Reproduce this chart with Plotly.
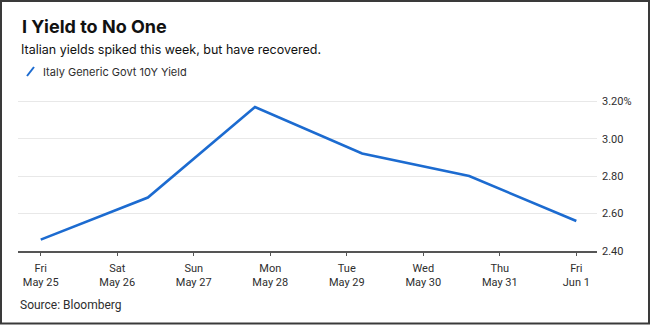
import plotly.graph_objects as go

# Italy generic government 10-year yield, one close per trading session
sessions = ["2018-05-25 00:00", "2018-05-26 09:36", "2018-05-27 19:12",
            "2018-05-29 04:48", "2018-05-30 14:24", "2018-06-01 00:00"]
yields = [2.461, 2.686, 3.170, 2.921, 2.801, 2.560]

# Calendar day ticks along the bottom
tick_dates = ["2018-05-25", "2018-05-26", "2018-05-27", "2018-05-28",
              "2018-05-29", "2018-05-30", "2018-05-31", "2018-06-01"]
tick_days = ["Fri", "Sat", "Sun", "Mon", "Tue", "Wed", "Thu", "Fri"]
tick_dates_lbl = ["May 25", "May 26", "May 27", "May 28",
                  "May 29", "May 30", "May 31", "Jun 1"]

y_ticks = [2.40, 2.60, 2.80, 3.00, 3.20]
y_tick_text = ["2.40", "2.60", "2.80", "3.00", "3.20%"]

title = "I Yield to No One"
subtitle = "Italian yields spiked this week, but have recovered."
series_name = "Italy Generic Govt 10Y Yield"
source = "Source: Bloomberg"

BLUE = "#1c6bd0"
TEXT = "#2e2e2e"
FONT = "Inter, Roboto, Arial, sans-serif"
LABEL_FONT = "Roboto, Arial, sans-serif"

W, H = 650, 325
L, R, T, B = 18, 53, 92, 74
PW, PH = W - L - R, H - T - B


def px(x):
    return (x - L) / PW


def py(y):
    return (H - B - y) / PH


fig = go.Figure()
fig.add_trace(go.Scatter(
    x=sessions, y=yields, mode="lines", name=series_name,
    line=dict(color=BLUE, width=2.6), hoverinfo="x+y",
))

fig.update_layout(
    width=W, height=H,
    margin=dict(l=L, r=R, t=T, b=B, pad=0),
    paper_bgcolor="white", plot_bgcolor="white",
    showlegend=False,
    font=dict(family=FONT, size=11, color=TEXT),
    xaxis=dict(
        type="date",
        range=["2018-05-24 16:52", "2018-06-01 06:29"],
        tickvals=tick_dates,
        ticktext=[f"{d}<br>{m}" for d, m in zip(tick_days, tick_dates_lbl)],
        showgrid=False, zeroline=False,
        showline=True, linecolor="#555555", linewidth=1.5,
        ticks="outside", ticklen=3, tickwidth=1, tickcolor="#555555",
        ticklabelstandoff=3,
        tickfont=dict(family=LABEL_FONT, size=11, color=TEXT),
    ),
    yaxis=dict(
        side="right",
        range=[2.40, 3.25],
        tickvals=y_ticks, ticktext=y_tick_text,
        showgrid=True, gridcolor="#e8e8e8", gridwidth=1,
        zeroline=False, showline=False, ticks="",
        ticklabelstandoff=4,
        tickfont=dict(family=LABEL_FONT, size=11, color=TEXT),
    ),
)

# Headline, deck, key and source line
fig.add_annotation(text=f"<b>{title}</b>", x=px(20), y=py(26),
                   xref="paper", yref="paper", xanchor="left", yanchor="middle",
                   showarrow=False, font=dict(family=FONT, size=18, color="#111111"))
fig.add_annotation(text=subtitle, x=px(19), y=py(49.5),
                   xref="paper", yref="paper", xanchor="left", yanchor="middle",
                   showarrow=False, font=dict(family=FONT, size=12.5, color="#111111"))
fig.add_annotation(text=series_name, x=px(41), y=py(72),
                   xref="paper", yref="paper", xanchor="left", yanchor="middle",
                   showarrow=False, font=dict(family=FONT, size=11, color=TEXT))
fig.add_annotation(text=source, x=px(18), y=py(305),
                   xref="paper", yref="paper", xanchor="left", yanchor="middle",
                   showarrow=False, font=dict(family=LABEL_FONT, size=12, color=TEXT))

# Slanted key glyph next to the series name
fig.add_shape(type="line", xref="paper", yref="paper",
              x0=px(27), y0=py(76), x1=px(34), y1=py(67),
              line=dict(color=BLUE, width=2))

# Outer frame
fig.add_shape(type="rect", xref="paper", yref="paper",
              x0=px(1), y0=py(323.5), x1=px(649), y1=py(1),
              line=dict(color="#3a3a3a", width=2), fillcolor="rgba(0,0,0,0)",
              layer="above")

fig.write_html("out.html")
